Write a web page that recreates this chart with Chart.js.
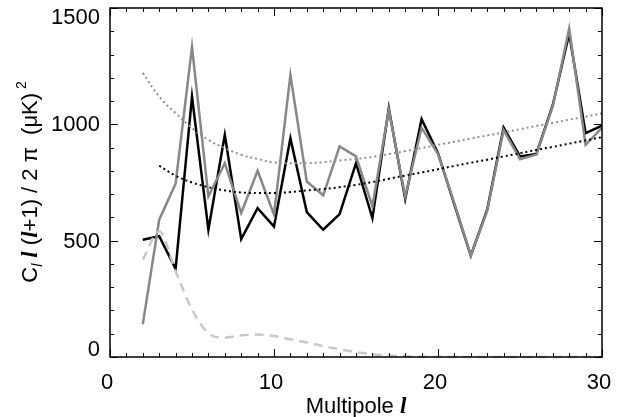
<!DOCTYPE html>
<html lang="en">
<head>
  <meta charset="UTF-8" />
  <title>Multipole spectrum</title>
  <script src="https://cdn.jsdelivr.net/npm/chart.js"></script>
  <style>
    html, body {
      margin: 0;
      padding: 0;
      background: #ffffff;
    }
    #wrap {
      width: 628px;
      height: 417px;
      position: relative;
    }
  </style>
</head>
<body>
  <div id="wrap"><canvas id="chart"></canvas></div>

  <script>
    // multipoles l = 2..30
    const multipoles = [2, 3, 4, 5, 6, 7, 8, 9, 10, 11, 12, 13, 14, 15, 16, 17, 18, 19, 20, 21, 22, 23, 24, 25, 26, 27, 28, 29, 30];
    const modelMultipoles = [3, 4, 5, 6, 7, 8, 9, 10, 11, 12, 13, 14, 15, 16, 17, 18, 19, 20, 21, 22, 23, 24, 25, 26, 27, 28, 29, 30];

    // measured spectra
    const grayPower = [140, 590, 745, 1333, 690, 833, 619, 800, 612, 1212, 754, 695, 905, 862, 648, 1062, 690, 985, 872, 660, 436, 628, 975, 850, 870, 1078, 1412, 912, 985];
    const blackPower = [504, 519, 379, 1119, 547, 955, 507, 640, 561, 940, 623, 547, 614, 833, 597, 1069, 679, 1022, 876, 655, 436, 633, 986, 862, 873, 1083, 1390, 962, 994];

    // smooth curves
    const grayModel = [1221, 1119, 1048, 984, 933, 898, 869, 851, 836, 833, 833, 837, 845, 851, 860, 872, 885, 898, 912, 925, 939, 952, 965, 979, 993, 1006, 1020, 1033, 1047];
    const blackModel = [822, 779, 750, 730, 716, 707, 705, 705, 709, 716, 722, 730, 740, 752, 766, 780, 793, 807, 821, 835, 848, 862, 876, 890, 903, 917, 931, 945];
    const dashedModel = [419, 540, 369, 204, 102, 83, 93, 97, 90, 76, 62, 47, 33, 21, 12, 6, 3, 1, 0, 0, 0, 0, 0, 0, 0, 0, 0, 0, 0];

    const xTicks = [0, 10, 20, 30];
    const yTicks = [0, 500, 1000, 1500];
    const xMinorStep = 1;
    const yMinorStep = 100;

    const FONT = "'Liberation Sans', Arial, sans-serif";
    const SCRIPT_L = "'Liberation Serif', 'Times New Roman', serif";

    const pts = (xs, ys) => xs.map((x, i) => ({ x: x, y: ys[i] }));

    // IDL-style frame: box on all sides, ticks pointing inward
    const idlFrame = {
      id: 'idlFrame',
      afterDatasetsDraw(chart) {
        const { ctx, chartArea: a, scales: { x, y } } = chart;
        ctx.save();
        ctx.strokeStyle = '#000';
        ctx.lineWidth = 1;
        ctx.beginPath();
        for (let v = x.min; v <= x.max + 1e-9; v += xMinorStep) {
          const px = Math.round(x.getPixelForValue(v)) + 0.5;
          const len = xTicks.includes(v) ? 8 : 4;
          ctx.moveTo(px, a.bottom); ctx.lineTo(px, a.bottom - len);
          ctx.moveTo(px, a.top); ctx.lineTo(px, a.top + len);
        }
        for (let v = y.min; v <= y.max + 1e-9; v += yMinorStep) {
          const py = Math.round(y.getPixelForValue(v)) + 0.5;
          const len = yTicks.includes(v) ? 8 : 4;
          ctx.moveTo(a.left, py); ctx.lineTo(a.left + len, py);
          ctx.moveTo(a.right, py); ctx.lineTo(a.right - len, py);
        }
        ctx.stroke();
        ctx.lineWidth = 1.5;
        ctx.strokeRect(a.left, a.top, a.right - a.left, a.bottom - a.top);
        ctx.restore();
      },
      afterDraw(chart) {
        const { ctx, chartArea: a, scales: { x, y } } = chart;
        ctx.save();
        ctx.fillStyle = '#000';
        ctx.font = '22px ' + FONT;

        // tick labels
        ctx.textAlign = 'center';
        ctx.textBaseline = 'middle';
        xTicks.forEach(v => ctx.fillText(String(v), x.getPixelForValue(v) - 3, 383));
        ctx.textAlign = 'right';
        yTicks.forEach(v => {
          const py = Math.min(Math.max(y.getPixelForValue(v), a.top + 9), a.bottom - 8);
          ctx.fillText(String(v), 100, py + 1);
        });

        // x title: Multipole l
        ctx.textBaseline = 'alphabetic';
        ctx.textAlign = 'left';
        const word = 'Multipole ';
        ctx.font = '22px ' + FONT;
        const w1 = ctx.measureText(word).width;
        ctx.font = 'italic bold 23px ' + SCRIPT_L;
        const w2 = ctx.measureText('l').width;
        let cx = (a.left + a.right) / 2 - (w1 + w2) / 2;
        ctx.font = '22px ' + FONT;
        ctx.fillText(word, cx, 413);
        ctx.font = 'italic bold 23px ' + SCRIPT_L;
        ctx.fillText('l', cx + w1, 413);

        // y title: C_l l(l+1)/2pi (uK)^2, rotated
        const parts = [
          { t: 'C', f: '22px ' + FONT, dy: 0 },
          { t: 'l', f: 'italic 14px ' + FONT, dy: 5 },
          { t: ' ', f: '22px ' + FONT, dy: 0 },
          { t: 'l', f: 'italic bold 23px ' + SCRIPT_L, dy: 0 },
          { t: ' (', f: '22px ' + FONT, dy: 0 },
          { t: 'l', f: 'italic bold 23px ' + SCRIPT_L, dy: 0 },
          { t: '+1) / 2 \u03c0  (\u03bcK)', f: '22px ' + FONT, dy: 0 },
          { t: ' 2', f: '14px ' + FONT, dy: -11 }
        ];
        let total = 0;
        parts.forEach(p => { ctx.font = p.f; p.w = ctx.measureText(p.t).width; total += p.w; });
        ctx.translate(37, 182);
        ctx.rotate(-Math.PI / 2);
        let tx = -total / 2;
        parts.forEach(p => {
          ctx.font = p.f;
          ctx.fillText(p.t, tx, p.dy);
          tx += p.w;
        });
        ctx.restore();
      }
    };

    new Chart(document.getElementById('chart'), {
      type: 'line',
      data: {
        datasets: [
          {
            label: 'dashed model',
            data: pts(multipoles, dashedModel),
            borderColor: '#c8c8c8',
            borderWidth: 2.5,
            borderDash: [9, 6],
            cubicInterpolationMode: 'monotone',
            pointRadius: 0,
            clip: 4
          },
          {
            label: 'gray model',
            data: pts(multipoles, grayModel),
            borderColor: '#909090',
            borderWidth: 2,
            borderDash: [2, 3],
            tension: 0.4,
            pointRadius: 0
          },
          {
            label: 'black model',
            data: pts(modelMultipoles, blackModel),
            borderColor: '#000000',
            borderWidth: 2,
            borderDash: [2, 3],
            tension: 0.4,
            pointRadius: 0
          },
          {
            label: 'gray spectrum',
            data: pts(multipoles, grayPower),
            borderColor: '#888888',
            borderWidth: 2.5,
            tension: 0,
            pointRadius: 0
          },
          {
            label: 'black spectrum',
            data: pts(multipoles, blackPower),
            borderColor: '#000000',
            borderWidth: 2.5,
            tension: 0,
            pointRadius: 0
          }
        ]
      },
      options: {
        responsive: true,
        maintainAspectRatio: false,
        animation: false,
        layout: { padding: { left: 110, top: 8, right: 26, bottom: 60 } },
        plugins: {
          legend: { display: false },
          tooltip: { enabled: false }
        },
        scales: {
          x: { type: 'linear', min: 0, max: 30, display: false },
          y: { type: 'linear', min: 0, max: 1500, display: false }
        }
      },
      plugins: [idlFrame]
    });
  </script>
</body>
</html>
